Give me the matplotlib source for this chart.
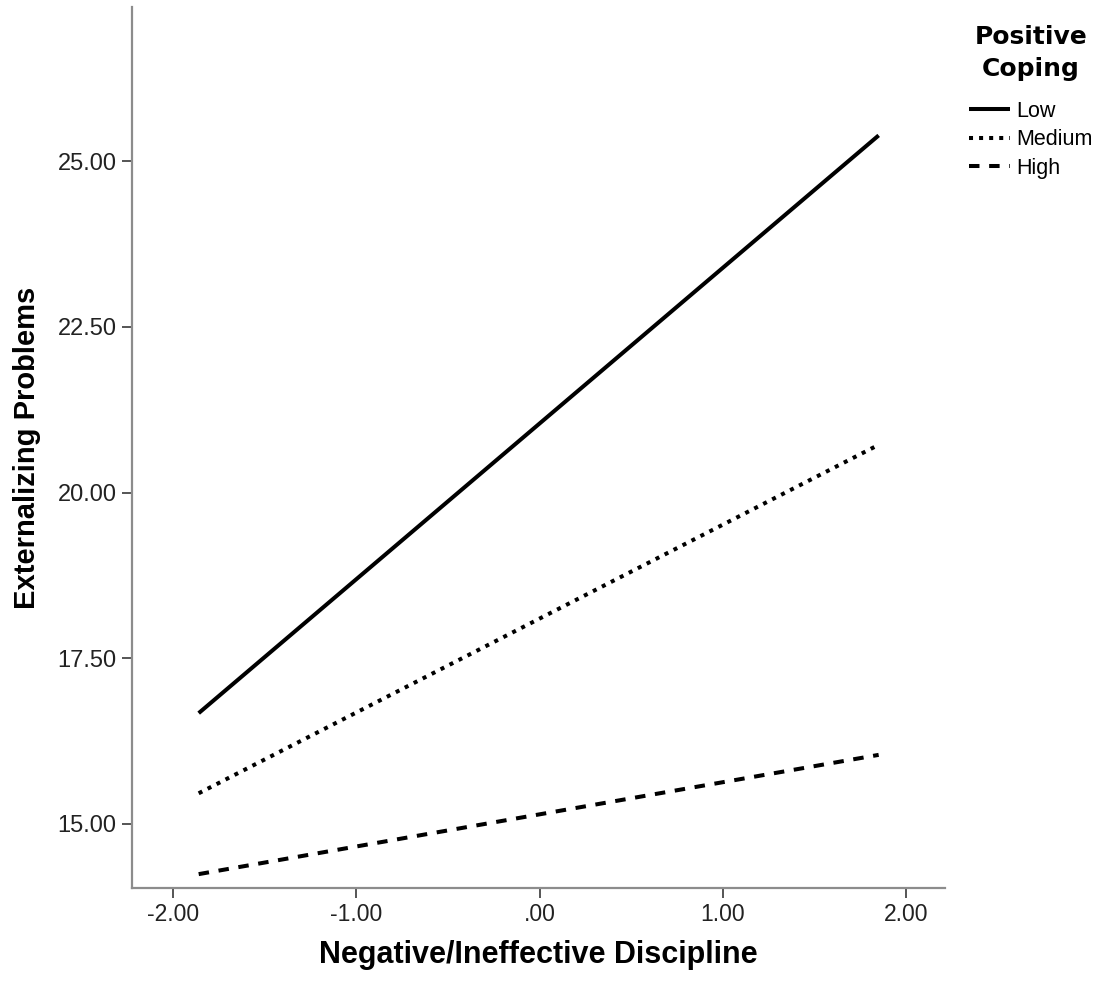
import numpy as np
import matplotlib.pyplot as plt

plt.rcParams['font.family'] = ['Liberation Sans', 'DejaVu Sans']

# Werte
x_vals = [-1.86, 1.85]
groups = ["Low", "Medium", "High"]
low_vals = [16.67, 25.39]
medium_vals = [15.46, 20.72]
high_vals = [14.24, 16.04]

x_ticks = [-2.0, -1.0, 0.0, 1.0, 2.0]
x_ticklabels = ["-2.00", "-1.00", ".00", "1.00", "2.00"]
y_ticks = [15.0, 17.5, 20.0, 22.5, 25.0]
y_ticklabels = ["15.00", "17.50", "20.00", "22.50", "25.00"]

fig = plt.figure(figsize=(10.96, 9.83), dpi=100)
ax = fig.add_axes([0.1204, 0.0966, 0.742, 0.8964])

lw = 2.9
ax.plot(x_vals, low_vals, color="black", lw=lw, linestyle="-", label=groups[0],
        solid_capstyle="butt")
ax.plot(x_vals, medium_vals, color="black", lw=lw, linestyle=(0, (1.0, 1.5)), label=groups[1],
        dash_capstyle="butt")
ax.plot(x_vals, high_vals, color="black", lw=lw, linestyle=(0, (2.6, 2.4)), label=groups[2],
        dash_capstyle="butt")

ax.set_xlim(-2.224, 2.213)
ax.set_ylim(14.03, 27.33)
ax.set_xticks(x_ticks)
ax.set_xticklabels(x_ticklabels, fontsize=16.5)
ax.set_yticks(y_ticks)
ax.set_yticklabels(y_ticklabels, fontsize=17)

for side in ["top", "right"]:
    ax.spines[side].set_visible(False)
for side in ["left", "bottom"]:
    ax.spines[side].set_color("#8c8c8c")
    ax.spines[side].set_linewidth(1.6)
ax.tick_params(axis="both", direction="out", length=7, width=1.4, color="#555555",
               labelcolor="#222222", pad=4)

ax.set_xlabel("Negative/Ineffective Discipline", fontsize=22, fontweight="bold",
              labelpad=10)
ax.set_ylabel("Externalizing Problems", fontsize=21, fontweight="bold",
              labelpad=12)

leg = ax.legend(loc="upper left", bbox_to_anchor=(0.884, 0.975), bbox_transform=fig.transFigure,
                frameon=False, fontsize=15.5, title="Positive\nCoping",
                handlelength=1.9, handletextpad=0.3, labelspacing=0.35,
                borderaxespad=0, borderpad=0)
leg.get_title().set_fontsize(18)
leg.get_title().set_fontweight("bold")
leg.get_title().set_family(['DejaVu Sans'])
leg.get_title().set_multialignment("center")
leg.get_title().set_linespacing(1.45)
leg._legend_box.sep = 14

fig.savefig("out.png", dpi=100)
